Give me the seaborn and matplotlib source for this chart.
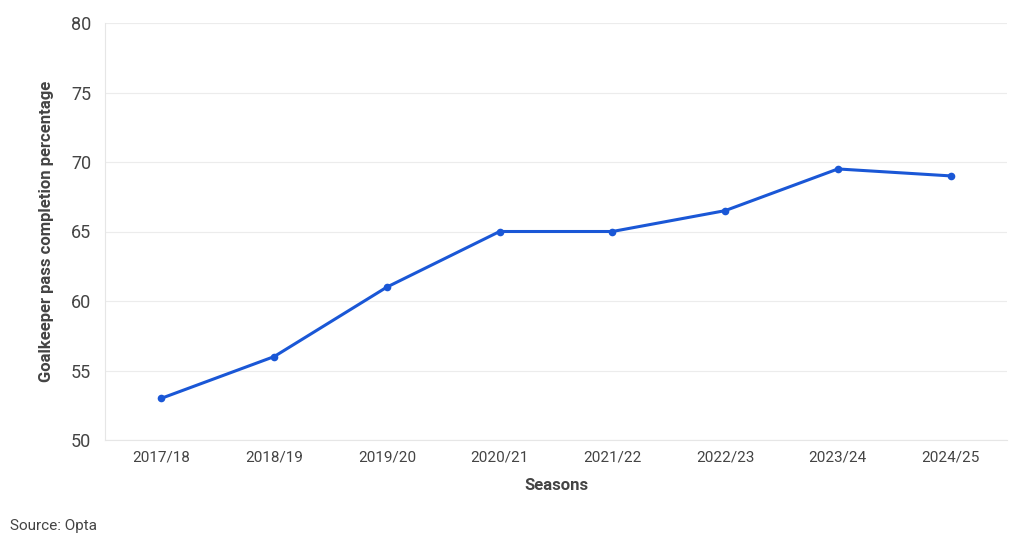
import matplotlib
matplotlib.use("Agg")
import matplotlib.pyplot as plt
import seaborn as sns
import pandas as pd

seasons = ["2017/18", "2018/19", "2019/20", "2020/21", "2021/22", "2022/23", "2023/24", "2024/25"]
pass_pct = [53, 56, 61, 65, 65, 66.5, 69.5, 69]
y_ticks = [50, 55, 60, 65, 70, 75, 80]

sns.set_style("white")
plt.rcParams['font.family'] = ['Roboto', 'DejaVu Sans']

df = pd.DataFrame({"season": seasons, "pct": pass_pct})

fig = plt.figure(figsize=(10.2, 5.46), dpi=100)
ax = fig.add_axes([105 / 1020, 1 - 440 / 546, 902 / 1020, 417 / 546])

sns.lineplot(data=df, x="season", y="pct", color="#1a57d6", linewidth=2.2,
             marker="o", markersize=5.5, markeredgewidth=0, ax=ax)

ax.set_xlim(-0.5, len(seasons) - 0.5)
ax.set_ylim(50, 80)
ax.set_yticks(y_ticks)
ax.grid(axis="y", color="#ececec", linewidth=0.8)
ax.grid(axis="x", visible=False)
for side in ["top", "right"]:
    ax.spines[side].set_visible(False)
ax.spines["left"].set_color("#e6e6e6")
ax.spines["bottom"].set_color("#e6e6e6")
ax.tick_params(axis="y", labelsize=13, colors="#444444", length=0, pad=10)
ax.tick_params(axis="x", labelsize=11, colors="#444444", length=4, color="#dddddd")

ax.set_xlabel("Seasons", fontsize=12, fontweight="bold", color="#444444", labelpad=10)
ax.set_ylabel("Goalkeeper pass completion percentage", fontsize=12, fontweight="bold",
              color="#444444", labelpad=12)

fig.text(10 / 1020, 1 - 526 / 546, "Source: Opta", fontsize=11, color="#444444", va="center")

fig.savefig("out.png", dpi=100)
